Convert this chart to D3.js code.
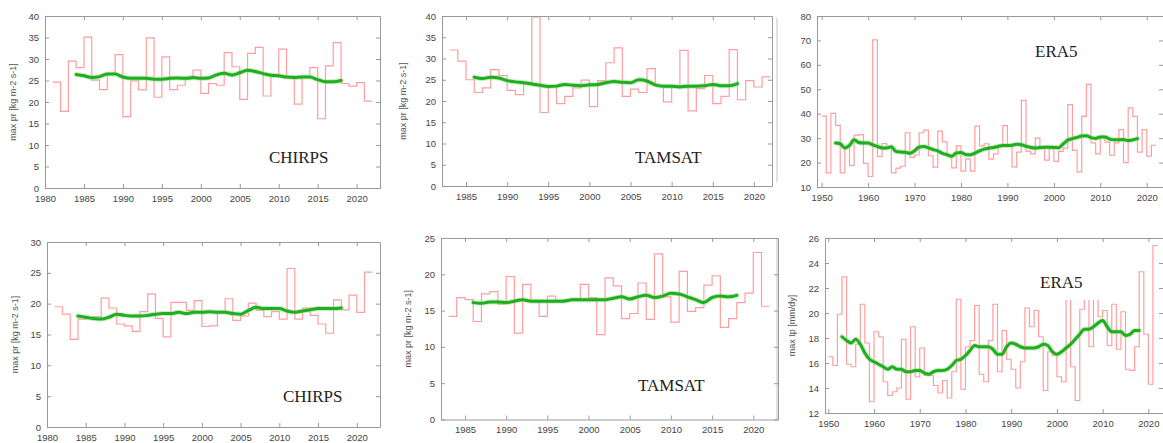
<!DOCTYPE html>
<html lang="en">
<head>
<meta charset="UTF-8">
<title>Annual maximum precipitation</title>
<script src="https://d3js.org/d3.v7.min.js"></script>
<style>
  body { margin: 0; background: #fff; }
  svg { display: block; }
  .tick text { font-family: "Liberation Sans", Arial, sans-serif; font-size: 9.5px; fill: #444; }
  .tick line, .domain { stroke: #999; }
  .ylab { font-family: "Liberation Sans", Arial, sans-serif; font-size: 9px; fill: #555; }
  .name { font-family: "Liberation Serif", "Times New Roman", serif; font-size: 17px; fill: #222; }
</style>
</head>
<body>
<svg id="chart" width="1163" height="443"></svg>
<script>
// ---- data (yearly maxima, first year given separately) ----
var chirpsTopStart = 1981;
var chirpsTopMax = [24.6, 17.8, 29.5, 28.0, 35.1, 25.1, 22.9, 26.6, 31.0, 16.6,
    24.9, 22.8, 34.9, 21.1, 30.5, 22.9, 23.9, 25.3, 27.4, 22.0,
    24.3, 23.9, 31.5, 28.2, 20.6, 31.3, 32.7, 21.4, 26.3, 32.3,
    25.9, 19.5, 25.7, 28.0, 16.1, 28.4, 33.8, 24.3, 23.7, 24.5, 20.2];
var chirpsTopSmoothStart = 1984;
var chirpsTopSmooth = [26.4, 26.1, 25.7, 25.9, 26.5, 26.5, 25.8, 25.5, 25.5, 25.5,
    25.3, 25.3, 25.5, 25.6, 25.5, 25.7, 25.5, 25.6, 26.3, 26.7,
    26.3, 26.8, 27.4, 27.1, 26.6, 26.2, 26.1, 25.8, 25.7, 25.8,
    25.8, 25.2, 24.7, 24.7, 25.0];

var tamsatTopStart = 1983;
var tamsatTopMax = [32.0, 29.4, 25.0, 22.0, 23.1, 27.4, 26.0, 22.5, 21.5, 24.0,
    39.8, 17.3, 23.3, 19.4, 21.1, 23.1, 24.9, 18.7, 24.8, 29.0,
    32.5, 21.1, 22.8, 22.0, 27.6, 23.6, 19.8, 23.3, 31.9, 17.7,
    22.9, 26.0, 19.4, 21.1, 32.1, 20.3, 24.8, 23.3, 25.7];
var tamsatTopSmoothStart = 1986;
var tamsatTopSmooth = [25.6, 25.3, 25.6, 25.4, 24.8, 24.5, 24.3, 24.0, 23.7, 23.4,
    23.5, 23.9, 23.7, 23.6, 23.8, 23.9, 24.3, 24.6, 24.4, 24.3,
    25.0, 24.7, 23.8, 23.5, 23.5, 23.3, 23.5, 23.5, 23.6, 23.9,
    23.6, 23.6, 24.1];

var era5TopStart = 1950;
var era5TopMax = [39.0, 15.8, 40.1, 35.2, 15.8, 26.5, 18.8, 31.2, 31.4, 19.7,
    14.3, 70.2, 22.5, 27.8, 26.3, 15.8, 17.7, 18.5, 32.2, 22.1,
    23.1, 32.2, 33.3, 22.8, 18.1, 32.9, 28.5, 23.2, 17.8, 26.8,
    16.5, 21.5, 16.5, 34.9, 26.8, 27.7, 21.4, 23.6, 27.0, 35.1,
    27.0, 18.2, 24.3, 45.5, 24.6, 23.6, 30.0, 25.7, 21.0, 25.7,
    20.5, 24.6, 25.9, 43.7, 25.0, 16.2, 38.9, 52.0, 28.1, 23.6,
    30.4, 28.4, 23.0, 28.1, 33.5, 20.0, 42.4, 38.9, 24.3, 33.5,
    22.6, 27.1];
var era5TopSmoothStart = 1953;
var era5TopSmooth = [28.0, 27.7, 26.0, 27.0, 29.3, 28.2, 28.0, 28.0, 27.3, 26.6,
    26.0, 26.0, 26.5, 24.6, 24.3, 24.2, 23.8, 24.8, 26.4, 26.6,
    26.0, 25.3, 24.8, 23.8, 23.2, 22.6, 23.9, 24.1, 23.3, 23.2,
    23.9, 24.8, 25.5, 25.9, 26.2, 26.6, 27.0, 27.0, 27.1, 27.5,
    27.3, 26.7, 26.2, 26.0, 26.2, 26.3, 26.3, 26.2, 26.1, 27.6,
    29.2, 29.8, 30.3, 30.9, 31.0, 30.2, 29.9, 30.5, 30.5, 29.6,
    29.3, 29.3, 29.4, 29.0, 29.3, 29.8];

var chirpsBotStart = 1981;
var chirpsBotMax = [19.5, 18.3, 14.2, 17.5, 17.6, 17.9, 20.9, 19.3, 16.7, 16.4,
    15.5, 18.7, 21.6, 17.6, 14.6, 20.2, 20.2, 18.9, 20.5, 16.3,
    16.4, 18.6, 20.8, 17.3, 18.0, 20.1, 18.9, 17.9, 18.7, 17.5,
    25.7, 17.5, 19.3, 18.1, 16.7, 15.2, 20.6, 19.0, 21.4, 18.6, 25.1];
var chirpsBotSmoothStart = 1984;
var chirpsBotSmooth = [18.0, 17.8, 17.6, 17.5, 17.8, 18.3, 18.1, 18.0, 18.0, 18.1,
    18.3, 18.4, 18.4, 18.6, 18.4, 18.6, 18.6, 18.7, 18.6, 18.6,
    18.4, 18.3, 18.9, 19.4, 19.2, 19.2, 19.2, 18.8, 18.6, 18.8,
    19.0, 19.2, 19.2, 19.2, 19.3];

var tamsatBotStart = 1983;
var tamsatBotMax = [14.2, 16.8, 16.5, 13.5, 17.3, 17.6, 15.9, 19.7, 11.9, 18.6,
    16.3, 14.2, 17.0, 16.3, 16.5, 16.6, 18.6, 16.8, 11.7, 19.5,
    18.4, 13.9, 14.6, 18.8, 13.8, 22.8, 16.9, 13.4, 20.4, 14.9,
    15.4, 18.5, 19.8, 12.7, 13.9, 16.1, 17.4, 23.0, 15.6];
var tamsatBotSmoothStart = 1986;
var tamsatBotSmooth = [16.1, 16.0, 16.2, 16.2, 16.1, 16.3, 16.5, 16.3, 16.3, 16.3,
    16.3, 16.3, 16.5, 16.5, 16.5, 16.5, 16.5, 16.7, 16.9, 16.6,
    16.9, 17.1, 16.8, 17.0, 17.4, 17.3, 16.9, 16.5, 16.1, 16.8,
    17.0, 16.9, 17.1];

var era5BotStart = 1950;
var era5BotMax = [16.5, 15.8, 19.9, 22.9, 15.9, 15.7, 17.5, 20.7, 17.6, 12.9,
    18.5, 18.1, 14.5, 13.4, 13.7, 14.0, 17.9, 13.1, 18.9, 14.9,
    17.2, 15.0, 15.0, 14.2, 13.6, 14.6, 13.2, 15.3, 21.1, 13.9,
    17.3, 17.8, 20.6, 15.1, 14.5, 17.8, 20.7, 15.3, 18.6, 16.3,
    15.5, 14.0, 16.1, 20.4, 18.9, 20.2, 18.1, 13.8, 16.9, 16.6,
    14.9, 14.5, 22.5, 15.7, 13.0, 20.3, 23.0, 17.3, 22.0, 19.7,
    20.2, 17.4, 20.7, 17.1, 20.1, 15.5, 15.4, 17.3, 23.3, 18.3,
    14.3, 25.4];
var era5BotSmoothStart = 1953;
var era5BotSmooth = [18.1, 17.8, 17.6, 17.9, 17.5, 16.8, 16.3, 16.1, 15.9, 15.7,
    15.5, 15.7, 15.5, 15.5, 15.3, 15.3, 15.4, 15.4, 15.2, 15.1,
    15.3, 15.4, 15.4, 15.5, 15.8, 16.2, 16.3, 16.6, 17.0, 17.4,
    17.3, 17.3, 17.3, 17.1, 16.7, 16.7, 17.3, 17.6, 17.5, 17.3,
    17.2, 17.2, 17.2, 17.3, 17.5, 17.4, 16.9, 16.7, 16.9, 17.2,
    17.5, 17.9, 18.3, 18.7, 18.7, 18.9, 19.2, 19.4, 18.9, 18.5,
    18.5, 18.5, 18.2, 18.3, 18.6, 18.6];

var prLabel = "max pr [kg m-2 s-1]";
var tpLabel = "max tp [mm/dy]";

// ---- panels (layout) ----
var panels = [
    { left: 45, right: 380, top: 16, bottom: 188, xDomain: [1980, 2023], yDomain: [0, 40],
      xTicks: d3.range(1980, 2021, 5), yTicks: d3.range(0, 41, 5),
      start: chirpsTopStart, values: chirpsTopMax, sStart: chirpsTopSmoothStart, smooth: chirpsTopSmooth,
      ylabel: prLabel, ylabelX: 13, name: "CHIRPS", nameX: 269, nameY: 163 },
    { left: 442, right: 772, top: 16, bottom: 186, xDomain: [1982.08, 2022.2], yDomain: [0, 40],
      xTicks: d3.range(1985, 2021, 5), yTicks: d3.range(0, 41, 5),
      start: tamsatTopStart, values: tamsatTopMax, sStart: tamsatTopSmoothStart, smooth: tamsatTopSmooth,
      ylabel: prLabel, ylabelX: 403, name: "TAMSAT", nameX: 635, nameY: 163 },
    { left: 817, right: 1163, top: 16, bottom: 187, xDomain: [1949.0, 2023.5], yDomain: [10, 80],
      xTicks: d3.range(1950, 2021, 10), yTicks: d3.range(10, 81, 10),
      start: era5TopStart, values: era5TopMax, sStart: era5TopSmoothStart, smooth: era5TopSmooth,
      ylabel: null, name: "ERA5", nameX: 1035, nameY: 57 },
    { left: 47, right: 380, top: 242, bottom: 427, xDomain: [1980, 2023], yDomain: [0, 30],
      xTicks: d3.range(1980, 2021, 5), yTicks: d3.range(0, 31, 5),
      start: chirpsBotStart, values: chirpsBotMax, sStart: chirpsBotSmoothStart, smooth: chirpsBotSmooth,
      ylabel: prLabel, ylabelX: 15, name: "CHIRPS", nameX: 283, nameY: 402 },
    { left: 441, right: 778, top: 238, bottom: 419.5, xDomain: [1982.09, 2023.0], yDomain: [0, 25],
      xTicks: d3.range(1985, 2021, 5), yTicks: d3.range(0, 26, 5),
      start: tamsatBotStart, values: tamsatBotMax, sStart: tamsatBotSmoothStart, smooth: tamsatBotSmooth,
      ylabel: prLabel, ylabelX: 408, name: "TAMSAT", nameX: 638, nameY: 391 },
    { left: 825, right: 1163, top: 238, bottom: 413, xDomain: [1949.28, 2023.2], yDomain: [12, 26],
      xTicks: d3.range(1950, 2021, 10), yTicks: d3.range(12, 27, 2),
      start: era5BotStart, values: era5BotMax, sStart: era5BotSmoothStart, smooth: era5BotSmooth,
      ylabel: tpLabel, ylabelX: 792, name: "ERA5", nameX: 1040, nameY: 288,
      nameBox: [1030, 252, 82, 48] }
];

var svg = d3.select("#chart");

// faint edges of the cropped neighbouring figures
svg.append("line").attr("x1", 777).attr("x2", 777).attr("y1", 18).attr("y2", 182)
    .attr("stroke", "#c4c4c4");
svg.append("line").attr("x1", 777).attr("x2", 777).attr("y1", 238).attr("y2", 420)
    .attr("stroke", "#c4c4c4");

panels.forEach(drawPanel);

function drawPanel(p) {
    var x = d3.scaleLinear().domain(p.xDomain).range([p.left, p.right]);
    var y = d3.scaleLinear().domain(p.yDomain).range([p.bottom, p.top]);
    var g = svg.append("g");

    // yearly maxima as steps, each year held until the next
    var pts = p.values.map(function(v, i) { return [p.start + i, v]; });
    pts.push([p.start + p.values.length, p.values[p.values.length - 1]]);
    g.append("path").datum(pts)
        .attr("fill", "none")
        .attr("stroke", "#ff9e9e")
        .attr("stroke-width", 1.2)
        .attr("d", d3.line().x(function(d) { return x(d[0]); }).y(function(d) { return y(d[1]); })
            .curve(d3.curveStepAfter));

    // smoothed line
    var sm = p.smooth.map(function(v, i) { return [p.sStart + i, v]; });
    var smLine = d3.line().x(function(d) { return x(d[0]); }).y(function(d) { return y(d[1]); })
        .curve(d3.curveMonotoneX);
    g.append("path").datum(sm)
        .attr("fill", "none").attr("stroke", "#8fdc8a").attr("stroke-width", 5)
        .attr("stroke-opacity", 0.5).attr("stroke-linecap", "round")
        .attr("d", smLine);
    g.append("path").datum(sm)
        .attr("fill", "none").attr("stroke", "#1fae1f").attr("stroke-width", 3)
        .attr("stroke-linecap", "round")
        .attr("d", smLine);

    // axes, ticks pointing inwards on all four sides
    g.append("g").attr("transform", "translate(0," + p.bottom + ")")
        .call(d3.axisBottom(x).tickValues(p.xTicks).tickFormat(d3.format("d"))
            .tickSizeInner(-4).tickSizeOuter(0).tickPadding(7));
    g.append("g").attr("transform", "translate(0," + p.top + ")")
        .call(d3.axisTop(x).tickValues(p.xTicks).tickFormat("")
            .tickSizeInner(-4).tickSizeOuter(0));
    g.append("g").attr("transform", "translate(" + p.left + ",0)")
        .call(d3.axisLeft(y).tickValues(p.yTicks).tickFormat(d3.format("d"))
            .tickSizeInner(-4).tickSizeOuter(0).tickPadding(6));
    g.append("g").attr("transform", "translate(" + p.right + ",0)")
        .call(d3.axisRight(y).tickValues(p.yTicks).tickFormat("")
            .tickSizeInner(-4).tickSizeOuter(0));

    if (p.ylabel) {
        var cy = (p.top + p.bottom) / 2;
        g.append("text").attr("class", "ylab")
            .attr("transform", "translate(" + p.ylabelX + "," + cy + ") rotate(-90)")
            .attr("text-anchor", "middle")
            .attr("dy", "0.35em")
            .text(p.ylabel);
    }

    if (p.nameBox) {
        g.append("rect").attr("x", p.nameBox[0]).attr("y", p.nameBox[1])
            .attr("width", p.nameBox[2]).attr("height", p.nameBox[3]).attr("fill", "#fff");
    }
    g.append("text").attr("class", "name")
        .attr("x", p.nameX).attr("y", p.nameY)
        .text(p.name);
}
</script>
</body>
</html>
